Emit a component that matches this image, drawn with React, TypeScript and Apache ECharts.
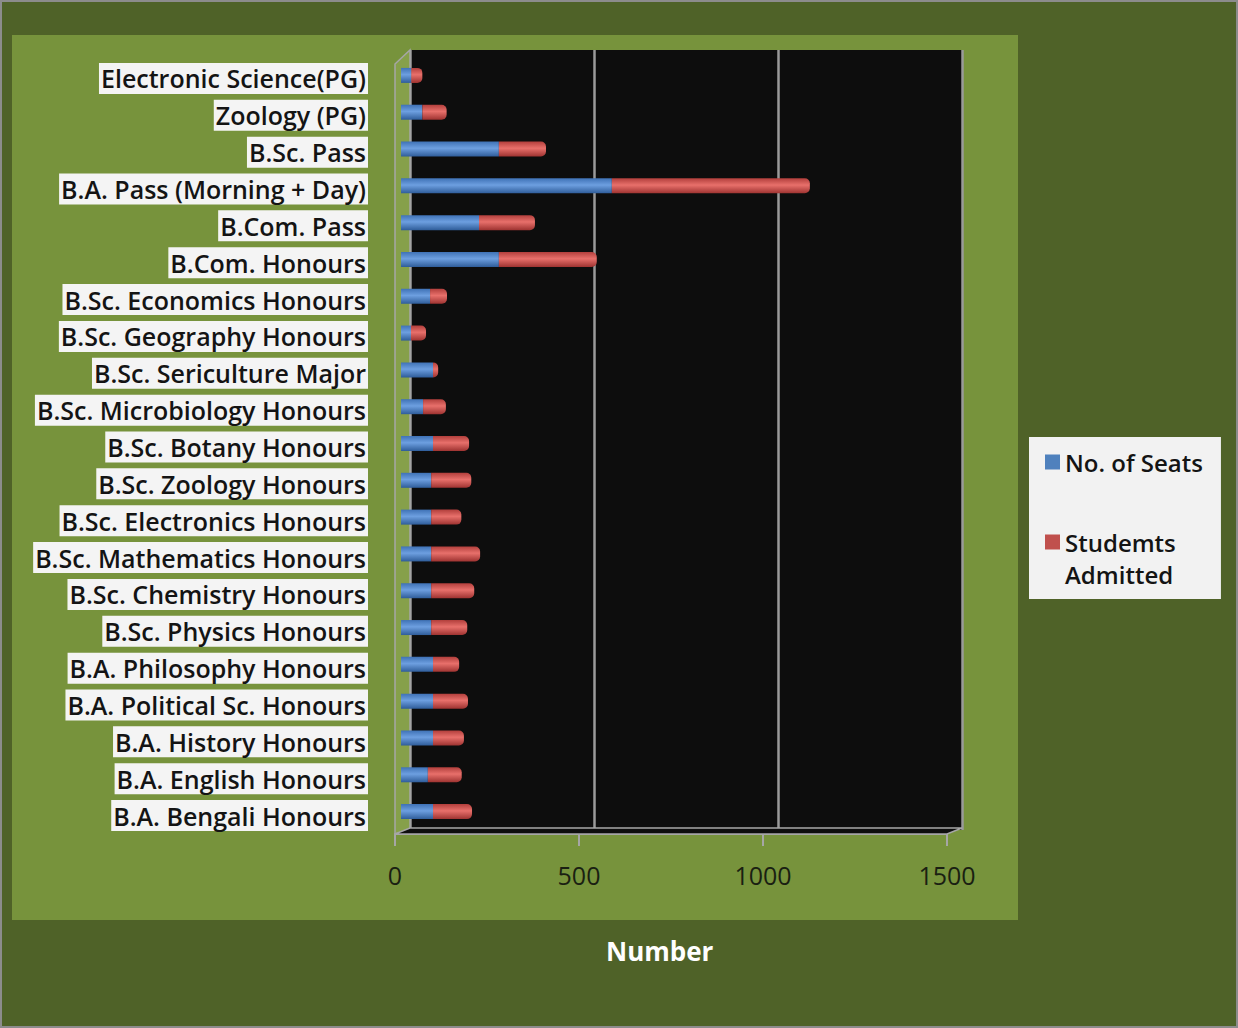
import React, { useEffect, useRef } from "react";
import * as echarts from "echarts";

const categories = [
  "Electronic Science(PG)",
  "Zoology (PG)",
  "B.Sc. Pass",
  "B.A. Pass (Morning + Day)",
  "B.Com. Pass",
  "B.Com. Honours",
  "B.Sc. Economics Honours",
  "B.Sc. Geography Honours",
  "B.Sc. Sericulture Major",
  "B.Sc. Microbiology Honours",
  "B.Sc. Botany Honours",
  "B.Sc. Zoology Honours",
  "B.Sc. Electronics Honours",
  "B.Sc. Mathematics Honours",
  "B.Sc. Chemistry Honours",
  "B.Sc. Physics Honours",
  "B.A. Philosophy Honours",
  "B.A. Political Sc. Honours",
  "B.A. History Honours",
  "B.A. English Honours",
  "B.A. Bengali Honours",
];

const seats = [28, 58, 266, 573, 212, 266, 79, 27, 87, 60, 87, 82, 82, 82, 82, 82, 87, 87, 87, 73, 87];
const admitted = [30, 66, 128, 538, 152, 266, 46, 41, 14, 62, 98, 109, 82, 133, 117, 98, 71, 95, 84, 92, 106];

const xTicks = [0, 500, 1000, 1500];
const seatsName = "No. of Seats";
const admittedName = "Studemts Admitted";
const axisTitle = "Number";

const FONT = "'Open Sans', Lato, 'DejaVu Sans', sans-serif";

export default function App() {
  const ref = useRef<HTMLDivElement>(null);
  useEffect(() => {
    if (!ref.current) return;
    const chart = echarts.init(ref.current, null, { renderer: "svg" });
    const blue = new echarts.graphic.LinearGradient(0, 0, 0, 1, [
      { offset: 0, color: "#3f72b6" },
      { offset: 0.45, color: "#6d9fe0" },
      { offset: 1, color: "#2f5d9a" },
    ]);
    const red = new echarts.graphic.LinearGradient(0, 0, 0, 1, [
      { offset: 0, color: "#b23f3c" },
      { offset: 0.45, color: "#e8706b" },
      { offset: 1, color: "#9e3331" },
    ]);
    const xMin = xTicks[0];
    const xMax = xTicks[xTicks.length - 1];
    const xInt = xTicks[1] - xTicks[0];
    chart.setOption({
      animation: false,
      backgroundColor: "#4f6228",
      grid: [
        { left: 408, top: 48, width: 552, height: 780 },
        { left: 399, top: 55, width: 552, height: 773 },
        { left: 393, top: 58, width: 552, height: 774 },
      ],
      xAxis: [
        {
          gridIndex: 0, type: "value", min: xMin, max: xMax, interval: xInt,
          axisLabel: { show: false }, axisLine: { show: false }, axisTick: { show: false },
          splitLine: { show: true, lineStyle: { color: "#9a9a9a", width: 2.5 } },
        },
        {
          gridIndex: 1, type: "value", min: xMin, max: xMax, interval: xInt, show: false,
        },
        {
          gridIndex: 2, type: "value", min: xMin, max: xMax, interval: xInt,
          axisLine: { show: true, lineStyle: { color: "#a6a6a6", width: 2 } },
          axisTick: { show: true, length: 12, lineStyle: { color: "#a6a6a6", width: 2 } },
          splitLine: { show: false },
          axisLabel: {
            fontFamily: FONT, fontSize: 25, color: "#1a1f12", margin: 28,
            formatter: (v: number) => String(v),
          },
        },
      ],
      yAxis: [
        { gridIndex: 0, type: "category", data: categories, inverse: true, show: false },
        { gridIndex: 1, type: "category", data: categories, inverse: true, show: false },
        {
          gridIndex: 2, type: "category", data: categories, inverse: true,
          axisLine: { show: false }, axisTick: { show: false },
          axisLabel: {
            fontFamily: FONT, fontSize: 25, fontWeight: 600, color: "#141414", margin: 27,
            lineHeight: 28, backgroundColor: "#f4f4f4", padding: [2, 2, 1, 2], interval: 0,
          },
        },
      ],
      legend: {
        orient: "vertical",
        left: 1027,
        top: 435,
        backgroundColor: "#f2f2f2",
        padding: [9, 18, 9, 16],
        itemWidth: 15,
        itemHeight: 15,
        itemGap: 16,
        icon: "rect",
        formatter: (name: string) => (name === admittedName ? " \nStudemts\nAdmitted" : name),
        textStyle: { fontFamily: FONT, fontSize: 24, fontWeight: 600, color: "#141414", lineHeight: 32 },
        data: [
          { name: seatsName, itemStyle: { color: "#4f81bd" } },
          { name: admittedName, itemStyle: { color: "#c0504d" } },
        ],
      },
      graphic: [
        {
          type: "rect", z: -10, silent: true,
          shape: { x: 10, y: 33, width: 1006, height: 885 },
          style: { fill: "#77933c" },
        },
        {
          type: "rect", z: -9, silent: true,
          shape: { x: 408, y: 48, width: 552, height: 780 },
          style: { fill: "#0d0d0d" },
        },
        {
          type: "polygon", z: 2, silent: true,
          shape: { points: [[393, 62], [408, 48], [408, 828], [393, 832]] },
          style: { fill: "#86a04a", stroke: "#a6a6a6", lineWidth: 1.5 },
        },
        {
          type: "polygon", z: 2, silent: true,
          shape: { points: [[393, 832], [408, 826], [960, 826], [945, 832]] },
          style: { fill: "#0d0d0d", stroke: "#a6a6a6", lineWidth: 1.5 },
        },
        {
          type: "text", z: 5, left: 660 - 56, top: 936,
          style: { text: axisTitle, fontFamily: FONT, fontSize: 26, fontWeight: "bold", fill: "#ffffff" },
        },
      ],
      series: [
        {
          name: seatsName, type: "bar", stack: "total", xAxisIndex: 1, yAxisIndex: 1,
          barWidth: 15, z: 3, data: seats, itemStyle: { color: blue },
        },
        {
          name: admittedName, type: "bar", stack: "total", xAxisIndex: 1, yAxisIndex: 1,
          barWidth: 15, z: 3, data: admitted, itemStyle: { color: red, borderRadius: [0, 5, 5, 0] },
        },
      ],
    });
    return () => chart.dispose();
  }, []);
  return (
    <div
      ref={ref}
      style={{
        position: "absolute", left: 0, top: 0, width: 1238, height: 1028,
        boxSizing: "border-box", border: "2px solid #8c8c8c",
      }}
    />
  );
}
